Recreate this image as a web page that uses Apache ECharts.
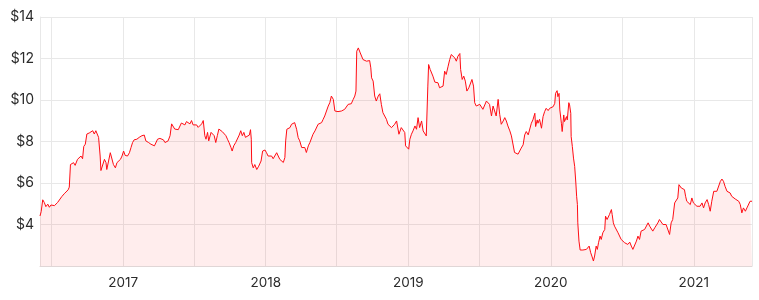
<!DOCTYPE html>
<html>
<head>
<meta charset="utf-8">
<script src="https://cdn.jsdelivr.net/npm/echarts@6/dist/echarts.min.js"></script>
<style>
html,body{margin:0;padding:0;background:#fff;}
#chart{width:759px;height:300px;}
</style>
</head>
<body>
<div id="chart"></div>
<script>
// First trading day of the series; dates below are day offsets from it
const startDate = '2016-06-02';

const dayOffsets = [
0,3,7,11,15,20,24,28,37,41,45,49,56,62,67,72,75,78,82,86,90,96,101,105,109,112,116,120,126,130,135,139,143,148,150,154,156,160,165,169,171,176,180,184,188,193,197,201,206,210,214,218,224,229,233,237,241,248,254,261,267,271,278,284,288,293,297,301,307,
311,316,320,324,328,333,337,341,345,350,354,358,362,367,371,375,380,384,388,392,397,401,405,409,414,418,422,425,429,432,438,441,446,450,454,458,463,467,472,476,480,484,489,492,496,501,506,510,514,518,522,526,531,536,539,541,542,546,550,555,560,566,570,576,580,584,589,593,597,601,606,610,614,
618,623,627,629,632,635,640,644,648,652,657,661,665,670,674,678,682,687,691,695,699,704,708,712,716,721,725,729,733,738,742,746,751,755,759,763,768,772,776,780,785,789,793,797,802,806,809,811,815,817,820,823,827,832,836,840,844,847,849,853,857,861,866,870,874,878,883,887,891,896,900,904,908,913,915,919,921,
925,930,934,936,940,944,947,951,955,960,964,968,972,977,981,985,989,993,995,999,1002,1006,1011,1015,1019,1023,1028,1032,1036,1040,1045,1049,1053,1058,1062,1066,1070,1075,1077,1081,1085,1089,1093,1098,1102,1106,1110,1113,1117,1122,1126,1130,1134,1139,1143,1147,1151,1156,1160,1164,1168,1173,1177,1181,1186,1190,1194,1198,1203,1207,1211,1215,1220,1224,1228,
1232,1237,1241,1245,1250,1254,1258,1262,1267,1269,1273,1275,1279,1284,1288,1292,1296,1301,1305,1309,1314,1318,1320,1324,1326,1329,1331,1335,1337,1341,1343,1348,1350,1354,1356,1359,1360,1363,1366,1369,1372,1374,1376,1377,1380,1383,1386,1390,1395,1399,1403,1406,1410,1413,1417,1420,1424,1427,1430,1434,1437,1441,1446,1448,1452,1454,1458,1463,1465,1468,1471,1476,1480,1484,1488,1493,1497,1501,1505,1510,1514,1518,
1522,1527,1531,1535,1539,1544,1548,1552,1557,1561,1565,1569,1574,1578,1582,1586,1591,1595,1599,1603,1608,1612,1616,1620,1625,1629,1633,1636,1639,1642,1646,1650,1653,1656,1661,1665,1669,1673,1678,1682,1686,1690,1695,1699,1703,1708,1712,1716,1720,1725,1729,1733,1737,1742,1746,1750,1754,1759,1763,1767,1771,1776,1780,1784,1789,1793,1797,1801,1806,1810,1814,1818,1823
];

const prices = [
4.41,4.62,5.19,5.06,4.86,4.98,4.83,4.94,4.91,4.94,5.06,5.15,5.35,5.48,5.40,5.67,5.80,6.89,6.81,6.98,6.85,7.14,7.06,7.30,7.17,7.76,7.87,8.36,8.41,8.44,8.52,8.36,8.52,8.44,8.20,7.30,6.60,6.57,7.14,6.98,6.65,6.73,7.46,7.54,6.89,6.73,6.98,6.93,7.14,7.30,7.54,7.33,7.30,7.46,7.71,7.95,8.08,8.11,8.20,8.28,8.31,8.03,7.95,7.87,7.95,7.79,7.71,8.11,8.15,
8.15,8.08,7.95,8.03,8.03,8.28,8.85,8.85,8.60,8.68,8.57,8.60,8.89,8.93,8.80,8.96,8.93,8.85,9.01,8.80,8.76,8.80,8.68,8.63,8.85,9.01,8.28,8.11,8.44,8.03,8.44,8.36,8.28,7.95,8.28,8.60,8.60,8.47,8.52,8.28,8.11,7.95,7.71,7.54,7.79,7.95,8.03,8.31,8.52,8.28,8.44,8.20,8.28,8.31,8.57,8.11,6.98,6.73,6.89,6.65,6.81,7.06,7.54,7.59,7.46,7.30,7.22,7.30,7.17,7.30,7.46,7.38,7.14,
7.20,6.99,7.23,8.03,8.59,8.51,8.67,8.83,8.91,8.91,8.59,8.19,8.03,7.71,7.63,7.71,7.47,7.79,7.95,8.00,8.35,8.51,8.59,8.83,8.83,8.91,9.07,9.23,9.31,9.71,9.87,10.19,10.03,9.47,9.39,9.44,9.39,9.47,9.44,9.55,9.47,9.79,9.87,9.82,10.03,10.19,10.43,12.35,12.51,12.59,12.27,12.27,11.95,11.95,11.87,11.95,11.90,11.55,11.07,10.91,10.19,9.95,10.19,10.30,9.79,9.39,9.31,9.07,8.83,8.91,8.67,8.59,8.83,8.99,9.07,8.35,8.27,
8.67,8.75,8.43,7.79,7.71,7.63,8.11,8.35,8.51,8.75,8.59,9.15,8.67,8.99,8.51,8.59,8.27,10.67,11.71,11.47,11.55,11.15,10.86,10.86,10.83,10.59,10.59,10.67,11.39,11.23,11.63,11.95,12.19,12.27,12.03,11.87,12.11,12.24,11.47,10.99,11.15,10.91,10.43,10.59,10.67,10.99,10.67,9.87,9.71,9.74,9.79,9.71,9.55,9.47,9.95,10.03,9.79,9.23,9.71,9.47,9.23,10.03,9.31,8.83,8.99,9.15,8.99,8.75,8.51,8.27,8.19,7.47,7.39,7.39,7.47,
7.68,7.84,8.32,8.48,8.32,8.40,8.88,9.04,9.36,8.72,9.04,8.88,9.07,8.64,9.20,9.44,9.60,9.49,9.60,9.52,9.68,9.84,10.32,10.45,10.16,10.32,9.52,8.88,8.48,9.28,8.96,9.20,9.04,9.87,9.76,9.36,8.24,7.76,7.20,6.80,6.00,5.36,4.96,4.08,3.20,2.77,2.77,2.77,2.77,2.80,2.72,2.96,2.64,2.48,2.24,2.48,2.96,2.80,3.12,3.44,3.28,3.60,3.76,4.40,4.24,4.16,4.48,4.72,4.48,4.08,3.92,3.84,3.60,3.52,3.28,3.20,3.12,3.04,3.04,3.15,2.96,2.80,
2.88,3.20,3.44,3.28,3.68,3.60,3.76,3.68,4.08,3.92,4.00,3.68,3.84,3.92,4.08,4.24,4.16,4.00,3.92,4.00,3.92,3.52,4.08,4.24,5.04,5.12,5.28,5.92,6.00,5.76,5.76,5.68,5.36,5.12,5.04,4.96,5.28,5.04,5.12,4.88,4.96,4.88,5.04,4.80,5.04,5.20,4.96,4.64,5.12,5.60,5.68,5.60,5.68,6.08,6.19,6.08,5.84,5.60,5.52,5.52,5.36,5.28,5.23,5.20,5.12,4.96,4.56,4.80,4.64,4.80,4.88,5.12,5.12
];

const yTicks = [2, 4, 6, 8, 10, 12, 14];

const DAY = 86400000;
const startMs = Date.parse(startDate + 'T00:00:00Z');
const seriesData = dayOffsets.map((d, i) => [startMs + d * DAY, prices[i]]);

const chart = echarts.init(document.getElementById('chart'), null, {renderer: 'canvas'});
const fontFamily = 'Inter, "Noto Sans", sans-serif';
chart.setOption({
  animation: false,
  backgroundColor: '#ffffff',
  grid: {left: 40, right: 7, top: 17, bottom: 34, containLabel: false},
  xAxis: {
    type: 'time',
    min: 'dataMin',
    max: 'dataMax',
    splitNumber: 10,
    minInterval: 181 * DAY,
    maxInterval: 184 * DAY,
    axisLine: {show: true, lineStyle: {color: '#e0d6d6', width: 1}},
    axisTick: {show: false},
    splitLine: {show: true, lineStyle: {color: '#e8e8e8', width: 1}},
    axisLabel: {
      color: '#2b2b2b',
      fontSize: 13.5,
      fontFamily: fontFamily,
      margin: 10,
      formatter: function (value) {
        const d = new Date(value);
        return d.getUTCMonth() === 0 ? String(d.getUTCFullYear()) : '';
      }
    }
  },
  yAxis: {
    type: 'value',
    min: yTicks[0],
    max: yTicks[yTicks.length - 1],
    interval: 2,
    axisLine: {show: true, lineStyle: {color: '#e8e8e8', width: 1}},
    axisTick: {show: false},
    splitLine: {show: true, lineStyle: {color: '#e8e8e8', width: 1}},
    axisLabel: {
      color: '#2b2b2b',
      fontSize: 14,
      fontFamily: fontFamily,
      margin: 6,
      showMinLabel: false,
      formatter: function (v) { return '$' + v; }
    }
  },
  series: [{
    type: 'line',
    data: seriesData,
    showSymbol: false,
    symbol: 'none',
    lineStyle: {color: '#ff0d14', width: 1},
    areaStyle: {color: 'rgba(250,20,20,0.11)', origin: 'start'},
    z: 3
  }]
});
</script>
</body>
</html>
